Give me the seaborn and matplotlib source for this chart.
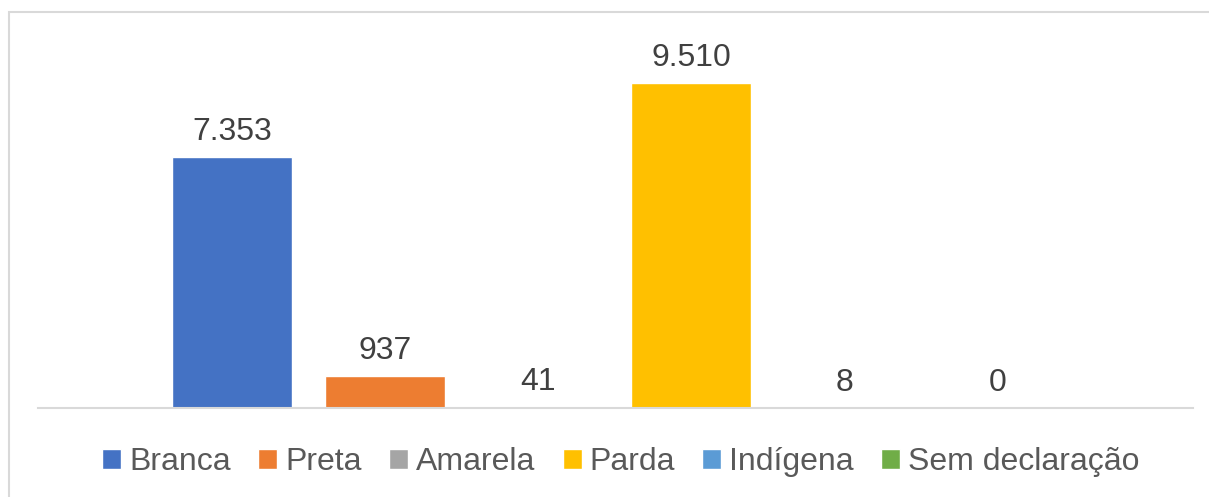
import matplotlib
matplotlib.use("Agg")
import matplotlib.pyplot as plt
import seaborn as sns
import pandas as pd
from matplotlib.patches import Rectangle

categories = ["Branca", "Preta", "Amarela", "Parda", "Indígena", "Sem declaração"]
values = [7353, 937, 41, 9510, 8, 0]
colors = ["#4472C4", "#ED7D31", "#A5A5A5", "#FFC000", "#5B9BD5", "#70AD47"]

sns.set_theme(style="white")
plt.rcParams["font.family"] = ["Liberation Sans", "DejaVu Sans"]

df = pd.DataFrame({"cat": categories, "val": values})

fig = plt.figure(figsize=(12.09, 4.97), dpi=100)
ax = fig.add_axes([38 / 1209, 1 - 408 / 497, (1193 - 38) / 1209, (408 - 20) / 497])

sns.barplot(data=df, x="cat", y="val", hue="cat", palette=colors, dodge=False,
            width=0.784, saturation=1, ax=ax, legend=True,
            order=categories, hue_order=categories)

for c in ax.containers:
    ax.bar_label(c, labels=[f"{int(v):,}".replace(",", ".") for v in c.datavalues],
                 padding=7, fontsize=23, color="#404040")

ax.set_xlim(-1.268, 6.28)
ax.set_ylim(0, 11352)
ax.set_xlabel("")
ax.set_ylabel("")
ax.set_xticks([])
ax.set_yticks([])
for s in ["top", "left", "right"]:
    ax.spines[s].set_visible(False)
ax.spines["bottom"].set_color("#D9D9D9")
ax.spines["bottom"].set_linewidth(1.5)

handles, labels = ax.get_legend_handles_labels()
ax.legend(handles, labels, loc="center", bbox_to_anchor=(621 / 1209, (497 - 462) / 497),
          bbox_transform=fig.transFigure, ncol=6, frameon=False, fontsize=23,
          handlelength=0.6, handleheight=0.6, handletextpad=0.25, columnspacing=0.85,
          labelcolor="#595959")

fig.patches.append(Rectangle((9 / 1209, -0.1), 1.2, 1.1 - 12 / 497,
                             transform=fig.transFigure, fill=False,
                             edgecolor="#D9D9D9", linewidth=1.5))

fig.savefig("out.png", dpi=100)
